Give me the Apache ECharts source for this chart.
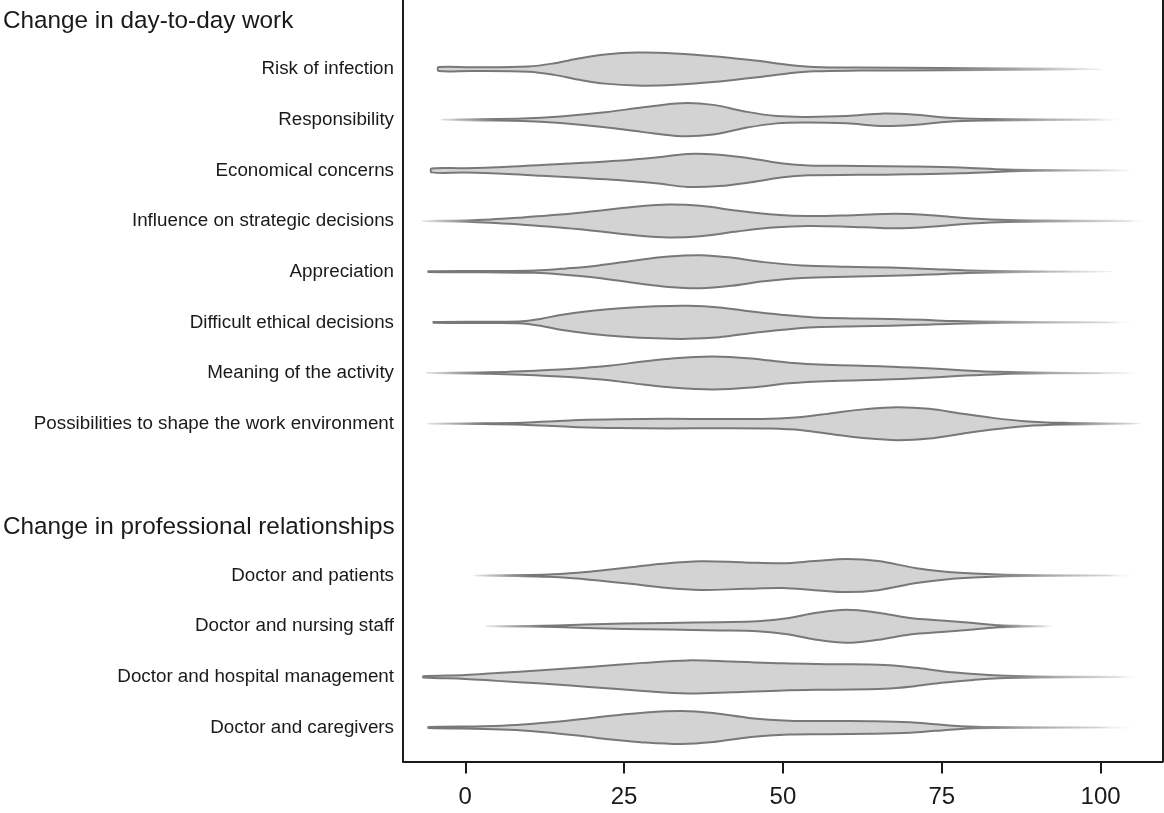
<!DOCTYPE html>
<html>
<head>
<meta charset="utf-8">
<script src="https://cdn.jsdelivr.net/npm/echarts@6/dist/echarts.min.js"></script>
<style>
  html, body { margin: 0; padding: 0; background: #ffffff; }
  #chart { width: 1164px; height: 813px; }
</style>
</head>
<body>
<div id="chart"></div>
<script>
// ---- data ----
const categories = [
  'Change in day-to-day work',
  'Risk of infection',
  'Responsibility',
  'Economical concerns',
  'Influence on strategic decisions',
  'Appreciation',
  'Difficult ethical decisions',
  'Meaning of the activity',
  'Possibilities to shape the work environment',
  '',
  'Change in professional relationships',
  'Doctor and patients',
  'Doctor and nursing staff',
  'Doctor and hospital management',
  'Doctor and caregivers'
];
const headers = ['Change in day-to-day work', 'Change in professional relationships'];
const xTicks = [0, 25, 50, 75, 100];

// density profiles: [value, relative density]
const riskOfInfection = [[-4.2,0.12],[1,0.11],[10,0.16],[14,0.35],[18,0.65],[22,0.88],[27,1.0],[33,0.95],[40,0.75],[46,0.5],[51,0.25],[55,0.13],[62,0.09],[75,0.07],[90,0.04],[100.7,0]];
const responsibility = [[-3.8,0],[3,0.04],[9,0.07],[15,0.2],[22,0.45],[28,0.75],[34,1.0],[39,0.9],[44,0.5],[49,0.22],[54,0.17],[60,0.22],[66,0.38],[71,0.3],[76,0.12],[82,0.05],[92,0.02],[103,0]];
const economicalConcerns = [[-5.3,0.12],[0,0.13],[6,0.2],[12,0.33],[18,0.45],[24,0.58],[30,0.78],[35,1.0],[40,0.95],[45,0.72],[50,0.42],[54,0.3],[62,0.27],[70,0.24],[78,0.18],[85,0.06],[92,0.02],[104.6,0]];
const influenceDecisions = [[-6.9,0],[0,0.04],[4,0.1],[9,0.22],[13,0.33],[18,0.5],[22,0.67],[27,0.88],[32,1.0],[37,0.92],[43,0.62],[49,0.38],[54,0.3],[60,0.34],[66,0.43],[70,0.42],[74,0.33],[78,0.2],[84,0.08],[92,0.03],[107,0]];
const appreciation = [[-5.8,0.02],[3,0.04],[11,0.07],[16,0.2],[21,0.38],[27,0.7],[32,0.92],[37,1.0],[42,0.85],[47,0.58],[53,0.38],[60,0.3],[67,0.25],[73,0.17],[79,0.08],[88,0.02],[101.8,0]];
const difficultEthical = [[-5,0.02],[4,0.04],[9,0.07],[12,0.22],[15,0.45],[20,0.7],[25,0.87],[30,0.97],[35,1.0],[40,0.9],[44,0.7],[50,0.45],[55,0.3],[62,0.24],[67,0.2],[72,0.15],[77,0.08],[85,0.03],[105,0]];
const meaningActivity = [[-6.2,0],[4,0.04],[9,0.1],[14,0.2],[19,0.32],[23,0.45],[28,0.7],[33,0.9],[39,1.0],[45,0.88],[51,0.62],[58,0.48],[66,0.4],[72,0.3],[78,0.17],[84,0.07],[92,0.02],[105.7,0]];
const possibilitiesShape = [[-5.8,0],[3,0.02],[9,0.06],[14,0.14],[18,0.22],[24,0.27],[32,0.29],[40,0.28],[48,0.3],[53,0.4],[58,0.65],[63,0.88],[68,1.0],[73,0.9],[78,0.62],[83,0.35],[88,0.15],[94,0.05],[106.4,0]];
const doctorPatients = [[1.4,0],[8,0.03],[13,0.07],[17,0.16],[21,0.3],[26,0.5],[31,0.72],[37,0.87],[44,0.8],[50,0.75],[55,0.88],[60,1.0],[65,0.88],[71,0.45],[76,0.22],[82,0.09],[88,0.03],[105,0]];
const doctorNursing = [[3.3,0],[10,0.02],[14.5,0.05],[19,0.1],[25,0.16],[32,0.2],[40,0.25],[46,0.3],[51,0.5],[55,0.8],[60,1.0],[65,0.82],[70,0.5],[75,0.35],[80,0.2],[84,0.06],[88,0.02],[92.7,0]];
const doctorManagement = [[-6.6,0.04],[0,0.12],[5,0.24],[12,0.4],[20,0.62],[28,0.85],[35,1.0],[42,0.93],[50,0.82],[58,0.77],[66,0.72],[71,0.55],[75,0.35],[80,0.18],[84,0.08],[90,0.03],[105.7,0]];
const doctorCaregivers = [[-5.8,0.03],[3,0.08],[8,0.15],[13,0.3],[18,0.5],[23,0.72],[28,0.9],[34,1.0],[39,0.88],[45,0.57],[51,0.42],[57,0.4],[64,0.38],[70,0.32],[74,0.2],[78,0.08],[83,0.03],[105,0]];

const violins = [
  { name: 'Risk of infection', profile: riskOfInfection },
  { name: 'Responsibility', profile: responsibility },
  { name: 'Economical concerns', profile: economicalConcerns },
  { name: 'Influence on strategic decisions', profile: influenceDecisions },
  { name: 'Appreciation', profile: appreciation },
  { name: 'Difficult ethical decisions', profile: difficultEthical },
  { name: 'Meaning of the activity', profile: meaningActivity },
  { name: 'Possibilities to shape the work environment', profile: possibilitiesShape },
  { name: 'Doctor and patients', profile: doctorPatients },
  { name: 'Doctor and nursing staff', profile: doctorNursing },
  { name: 'Doctor and hospital management', profile: doctorManagement },
  { name: 'Doctor and caregivers', profile: doctorCaregivers }
];

// ---- chart ----
const chart = echarts.init(document.getElementById('chart'), null, { renderer: 'canvas' });
const FONT = "'Liberation Sans', Arial, sans-serif";
const X_MIN = -9.8, X_MAX = 109.75;
const Y_MIN = -0.364, Y_MAX = 14.67;
const rowIndex = categories.map(function (_, i) { return i; });
const FRAME = { show: true, onZero: false, lineStyle: { color: '#1a1a1a', width: 2 } };

function renderViolin(params, api) {
  const v = violins[params.dataIndex];
  const c = api.value(1);
  const unit = api.size([0, 1])[1];
  const half = unit * 0.326;
  const prof = v.profile;
  const top = [], bot = [];
  prof.forEach(function (p) {
    const pt = api.coord([p[0], c]);
    top.push([pt[0], pt[1] - p[1] * half]);
    bot.push([pt[0], pt[1] + p[1] * half]);
  });
  const pts = top.slice();
  for (let i = bot.length - 1; i >= 0; i--) {
    if (prof[i][1] === 0) continue;
    pts.push(bot[i]);
  }
  const xs = api.coord([prof[0][0], c])[0];
  const last = prof[prof.length - 1][0];
  const xe = api.coord([last, c])[0];
  const frac = function (val) {
    const f = (api.coord([val, c])[0] - xs) / (xe - xs);
    return Math.max(0, Math.min(1, f));
  };
  let fadeFrom = prof[0][0];
  for (let i = 0; i < prof.length; i++) { if (prof[i][1] >= 0.05) fadeFrom = prof[i][0]; }
  const stops = [];
  if (prof[0][1] === 0) {
    stops.push({ offset: 0, color: 'rgba(120,120,120,0.15)' });
    stops.push({ offset: frac(prof[0][0] + 9), color: 'rgba(120,120,120,1)' });
  } else {
    stops.push({ offset: 0, color: 'rgba(120,120,120,1)' });
  }
  stops.push({ offset: frac(fadeFrom), color: 'rgba(120,120,120,1)' });
  stops.push({ offset: 1, color: 'rgba(120,120,120,0)' });
  const grad = new echarts.graphic.LinearGradient(xs, 0, xe, 0, stops, true);
  return {
    type: 'polygon',
    shape: { points: pts, smooth: 0.35 },
    style: { fill: '#d3d3d3', stroke: grad, lineWidth: 2 }
  };
}

const option = {
  animation: false,
  backgroundColor: '#ffffff',
  grid: { left: 399.5, width: 763, top: 0, height: 761.5, show: false, containLabel: false },
  xAxis: {
    type: 'value', min: X_MIN, max: X_MAX,
    axisLine: FRAME,
    splitLine: { show: false },
    axisTick: { show: true, length: 12, customValues: xTicks, lineStyle: { color: '#1a1a1a', width: 2 } },
    axisLabel: { show: true, customValues: xTicks, fontFamily: FONT, fontSize: 24, color: '#1a1a1a', margin: 24 }
  },
  yAxis: [
    {
      type: 'value', inverse: true, min: Y_MIN, max: Y_MAX, position: 'left',
      axisLine: FRAME, axisTick: { show: false }, splitLine: { show: false },
      axisLabel: {
        customValues: rowIndex, margin: 9, fontFamily: FONT, color: '#1a1a1a',
        formatter: function (val) {
          const name = categories[Math.round(val)];
          if (!name) return '';
          return headers.indexOf(name) >= 0 ? '{h|' + name + '}' : '{i|' + name + '}';
        },
        rich: {
          h: { fontSize: 24.3, fontFamily: FONT, color: '#1a1a1a', width: 391, align: 'left', padding: [5, 0, 0, 0] },
          i: { fontSize: 18.8, fontFamily: FONT, color: '#1a1a1a' }
        }
      }
    },
    {
      type: 'value', inverse: true, min: Y_MIN, max: Y_MAX, position: 'right',
      axisLine: FRAME, axisTick: { show: false }, axisLabel: { show: false }, splitLine: { show: false }
    }
  ],
  series: [
    {
      type: 'custom',
      coordinateSystem: 'cartesian2d',
      xAxisIndex: 0, yAxisIndex: 0,
      silent: true,
      renderItem: renderViolin,
      encode: { x: 0, y: 1 },
      data: violins.map(function (d) { return [0, categories.indexOf(d.name)]; })
    }
  ]
};
chart.setOption(option);
</script>
</body>
</html>
